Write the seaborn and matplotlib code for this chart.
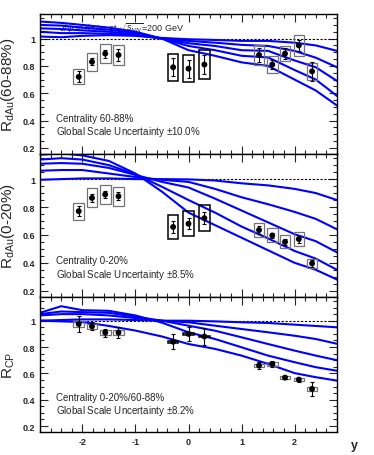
import numpy as np
import pandas as pd
import seaborn as sns
import matplotlib
matplotlib.use("Agg")
import matplotlib.pyplot as plt
from matplotlib.patches import Rectangle
from matplotlib.ticker import MultipleLocator, FuncFormatter

sns.set_theme(style="ticks")
plt.rcParams['font.family'] = ['Liberation Sans', 'DejaVu Sans']
plt.rcParams['mathtext.fontset'] = 'custom'
plt.rcParams['mathtext.rm'] = 'Liberation Sans'
plt.rcParams['mathtext.it'] = 'Liberation Sans:italic'
plt.rcParams['axes.unicode_minus'] = False

# rapidity bins
y_pts = [-2.07, -1.82, -1.57, -1.32, -0.29, 0.0, 0.30, 1.33, 1.58, 1.82, 2.08, 2.33]
mid = [False, False, False, False, True, True, True, False, False, False, False, False]

# R_dAu 60-88%
r_periph = [0.72, 0.83, 0.89, 0.88, 0.79, 0.78, 0.81, 0.88, 0.81, 0.89, 0.95, 0.76]
stat_periph = [0.04, 0.025, 0.03, 0.045, 0.065, 0.065, 0.07, 0.05, 0.03, 0.04, 0.04, 0.07]
sys_periph = [0.055, 0.065, 0.07, 0.07, 0.10, 0.10, 0.105, 0.07, 0.065, 0.055, 0.078, 0.062]

# R_dAu 0-20%
r_central = [0.77, 0.865, 0.89, 0.877, 0.657, 0.68, 0.72, 0.635, 0.596, 0.55, 0.57, 0.396]
stat_central = [0.035, 0.03, 0.025, 0.03, 0.045, 0.04, 0.045, 0.03, 0.02, 0.02, 0.025, 0.025]
sys_central = [0.062, 0.068, 0.07, 0.069, 0.086, 0.089, 0.093, 0.052, 0.05, 0.047, 0.05, 0.033]

# R_CP
r_cp = [0.975, 0.957, 0.91, 0.91, 0.84, 0.90, 0.88, 0.66, 0.672, 0.568, 0.553, 0.482]
stat_cp = [0.06, 0.03, 0.03, 0.04, 0.058, 0.052, 0.065, 0.025, 0.02, 0.01, 0.015, 0.05]
sys_cp = [0.02, 0.02, 0.018, 0.018, 0.006, 0.006, 0.006, 0.015, 0.015, 0.012, 0.012, 0.012]

# theory curves (5 per panel)
y_curve = [-2.8, -2.4, -2.0, -1.5, -1.0, -0.5, 0.0, 0.5, 1.0, 1.5, 2.0, 2.4, 2.8]
curves_periph = [
    [1.015, 1.01, 1.02, 1.025, 1.02, 1.005, 0.995, 0.99, 0.983, 0.983, 0.97, 0.95, 0.91],
    [1.05, 1.04, 1.04, 1.035, 1.025, 1.0, 0.983, 0.97, 0.954, 0.946, 0.91, 0.86, 0.79],
    [1.075, 1.07, 1.06, 1.05, 1.03, 1.0, 0.966, 0.946, 0.915, 0.91, 0.84, 0.79, 0.69],
    [1.10, 1.095, 1.08, 1.065, 1.04, 1.0, 0.946, 0.915, 0.874, 0.862, 0.77, 0.70, 0.58],
    [1.125, 1.115, 1.10, 1.08, 1.05, 1.0, 0.915, 0.874, 0.826, 0.80, 0.70, 0.62, 0.51],
]
curves_central = [
    [0.995, 1.0, 1.005, 1.005, 1.0, 1.0, 0.998, 0.99, 0.97, 0.955, 0.93, 0.90, 0.85],
    [1.06, 1.065, 1.065, 1.04, 1.015, 0.995, 0.98, 0.93, 0.87, 0.82, 0.765, 0.715, 0.64],
    [1.11, 1.115, 1.11, 1.08, 1.03, 0.98, 0.94, 0.86, 0.775, 0.69, 0.605, 0.555, 0.475],
    [1.14, 1.15, 1.14, 1.10, 1.035, 0.945, 0.85, 0.76, 0.66, 0.575, 0.485, 0.43, 0.35],
    [1.175, 1.185, 1.17, 1.13, 1.04, 0.91, 0.76, 0.67, 0.58, 0.49, 0.40, 0.35, 0.28],
]
curves_cp = [
    [1.0, 1.005, 1.01, 1.01, 1.005, 1.0, 1.0, 0.995, 0.988, 0.983, 0.97, 0.96, 0.95],
    [1.04, 1.05, 1.05, 1.04, 1.02, 1.0, 0.988, 0.962, 0.937, 0.912, 0.886, 0.861, 0.825],
    [1.05, 1.07, 1.065, 1.06, 1.03, 1.0, 0.962, 0.924, 0.874, 0.823, 0.773, 0.735, 0.70],
    [1.06, 1.11, 1.08, 1.075, 1.04, 0.985, 0.912, 0.861, 0.798, 0.735, 0.685, 0.647, 0.62],
    [1.0, 0.995, 0.99, 0.96, 0.925, 0.88, 0.823, 0.786, 0.735, 0.672, 0.602, 0.571, 0.545],
]

panels = [
    (r_periph, stat_periph, sys_periph, curves_periph, r"R$_{\rm dAu}$(60-88%)",
     "Centrality 60-88%", "Global Scale Uncertainty $\\pm$10.0%"),
    (r_central, stat_central, sys_central, curves_central, r"R$_{\rm dAu}$(0-20%)",
     "Centrality 0-20%", "Global Scale Uncertainty $\\pm$8.5%"),
    (r_cp, stat_cp, sys_cp, curves_cp, r"R$_{\rm CP}$",
     "Centrality 0-20%/60-88%", "Global Scale Uncertainty $\\pm$8.2%"),
]

W, H = 374, 456
fig = plt.figure(figsize=(W / 100, H / 100), dpi=100)
edges = [(15, 155), (155, 298), (298, 433)]
x0, x1 = 40, 337

for i, (vals, stat, sys_, curves, ylab, t1, t2) in enumerate(panels):
    top, bot = edges[i]
    ax = fig.add_axes([x0 / W, 1 - bot / H, (x1 - x0) / W, (bot - top) / H])
    ax.set_xlim(-2.8, 2.8)
    ax.set_ylim(0.155, 1.18)

    long = pd.DataFrame({
        "y": np.tile(y_curve, len(curves)),
        "r": np.concatenate(curves),
        "c": np.repeat(np.arange(len(curves)), len(y_curve)),
    })
    sns.lineplot(data=long, x="y", y="r", hue="c", palette=["#0000ff"] * len(curves),
                 linewidth=1.5, legend=False, ax=ax, zorder=2)
    ax.axhline(1.0, color="black", ls=(0, (2, 1.5)), lw=0.8, zorder=1)

    for xv, v, s, m in zip(y_pts, vals, sys_, mid):
        ax.add_patch(Rectangle((xv - 0.1, v - s), 0.2, 2 * s, fill=False,
                               edgecolor="black" if m else "0.45",
                               lw=1.1 if m else 0.9, zorder=3))
    ax.errorbar(y_pts, vals, yerr=stat, fmt="none", ecolor="black", elinewidth=0.8,
                capsize=1.2, capthick=0.8, zorder=4)
    sns.scatterplot(x=y_pts, y=vals, color="black", s=18, edgecolor="none", ax=ax, zorder=5)

    ax.text(-2.5, 0.42, t1, fontsize=7, va="center", ha="left")
    ax.text(-2.5, 0.32, t2, fontsize=7, va="center", ha="left")

    ax.set_ylabel(ylab, fontsize=11)
    ax.yaxis.set_label_coords(-0.078, 0.5)
    ax.set_xlabel("")
    ax.yaxis.set_major_locator(MultipleLocator(0.2))
    ax.yaxis.set_minor_locator(MultipleLocator(0.05))
    ax.xaxis.set_major_locator(MultipleLocator(1))
    ax.xaxis.set_minor_locator(MultipleLocator(0.2))
    ax.yaxis.set_major_formatter(FuncFormatter(lambda v, p: "1" if abs(v - 1) < 1e-6 else f"{v:.1f}"))
    ax.tick_params(which="both", direction="in", top=True, right=True, labelsize=6.5, width=0.8)
    ax.tick_params(which="major", length=6)
    ax.tick_params(which="minor", length=3)
    for lab in ax.get_xticklabels() + ax.get_yticklabels():
        lab.set_fontweight("bold")
    for sp in ax.spines.values():
        sp.set_linewidth(1.0)
        sp.set_color("black")
    if i < 2:
        ax.tick_params(axis="x", labelbottom=False)
    else:
        ax.text(1.06, -0.1, "y", transform=ax.transAxes, fontsize=9, fontweight="bold",
                ha="center", va="center")
    if i == 0:
        ax.text(-2.45, 1.075, r"J/$\psi$ in d+Au at $\sqrt{s_{NN}}$=200 GeV", fontsize=6.5,
                va="center", ha="left", zorder=1.5)

fig.savefig("out.png", dpi=100)
